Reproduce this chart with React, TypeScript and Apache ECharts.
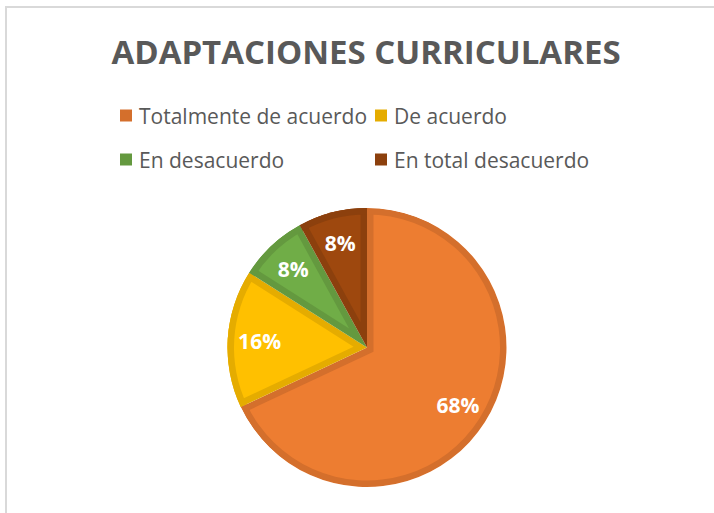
import React, { useEffect, useRef } from "react";
import * as echarts from "echarts";

const titleText = "ADAPTACIONES CURRICULARES";
const categories = ["Totalmente de acuerdo", "De acuerdo", "En desacuerdo", "En total desacuerdo"];
const values = [68, 16, 8, 8];
const lightColors = ["#ED7D31", "#FFC000", "#70AD47", "#9E480E"];
const darkColors = ["#D46F2C", "#E5AC00", "#64993F", "#8C400D"];

const CX = 367;
const CY = 347.5;
const R = 139.5;
const D = 6.5;
const FONT = "'Open Sans', 'Liberation Sans', sans-serif";

export default function App() {
  const ref = useRef<HTMLDivElement>(null);
  useEffect(() => {
    if (!ref.current) return;
    const chart = echarts.init(ref.current, null, { renderer: "svg" });
    const total = values.reduce((a, b) => a + b, 0);
    const noFx = {
      silent: true,
      animation: false,
      avoidLabelOverlap: false,
      label: { show: false },
      labelLine: { show: false },
      emphasis: { disabled: true },
      startAngle: 90,
      clockwise: true,
    };
    const series: any[] = [];
    // dark base
    series.push({
      ...noFx,
      type: "pie",
      center: [CX, CY],
      radius: [0, R],
      data: values.map((v, j) => ({ name: categories[j], value: v, itemStyle: { color: darkColors[j] } })),
    });
    // light inset wedges
    let cum = 0;
    let needCover = 0;
    values.forEach((v, i) => {
      const f0 = cum / total;
      cum += v;
      const f1 = cum / total;
      const theta = (f1 - f0) * 2 * Math.PI;
      const beta = ((f0 + f1) / 2) * 2 * Math.PI;
      const s = D / Math.sin(theta / 2);
      const reflex = theta > Math.PI;
      const rr = reflex ? R - D + s : R - s;
      if (reflex) needCover = Math.max(needCover, 2 * s);
      series.push({
        ...noFx,
        type: "pie",
        center: [CX + s * Math.sin(beta), CY - s * Math.cos(beta)],
        radius: [0, rr],
        data: values.map((w, j) => ({
          name: categories[j],
          value: w,
          itemStyle: { color: j === i ? lightColors[i] : "rgba(0,0,0,0)" },
        })),
      });
    });
    // dark outer ring
    series.push({
      ...noFx,
      type: "pie",
      center: [CX, CY],
      radius: [R - D, R],
      data: values.map((v, j) => ({ name: categories[j], value: v, itemStyle: { color: darkColors[j] } })),
    });
    // white cover outside the pie (for reflex slice overflow)
    series.push({
      ...noFx,
      type: "pie",
      center: [CX, CY],
      radius: [R, R + needCover + 2],
      data: values.map((v, j) => ({
        name: categories[j],
        value: v,
        itemStyle: { color: v / total > 0.5 ? "#ffffff" : "rgba(0,0,0,0)" },
      })),
    });
    // labels
    series.push({
      ...noFx,
      type: "pie",
      center: [CX, CY],
      radius: [R * 0.5, R],
      data: values.map((v, j) => ({ name: categories[j], value: v, itemStyle: { color: "rgba(0,0,0,0)" } })),
      label: {
        show: true,
        position: "inside",
        formatter: "{d}%",
        color: "#ffffff",
        fontSize: 21,
        fontWeight: "bold",
        fontFamily: FONT,
      },
    });

    const legendPos = [
      { left: 120, top: 105 },
      { left: 375, top: 105 },
      { left: 120, top: 149 },
      { left: 375, top: 149 },
    ];
    const legend = categories.map((c, i) => ({
      ...legendPos[i],
      orient: "horizontal",
      icon: "rect",
      itemWidth: 12,
      itemHeight: 12,
      itemGap: 0,
      padding: 0,
      selectedMode: false,
      textStyle: { fontFamily: FONT, fontSize: 21, color: "#595959", padding: [0, 0, 0, 2] },
      data: [{ name: c, itemStyle: { color: darkColors[i] } }],
    }));

    chart.setOption({
      animation: false,
      backgroundColor: "#ffffff",
      title: {
        text: titleText,
        left: 366,
        top: 35,
        textAlign: "center",
        padding: 0,
        textStyle: { fontFamily: FONT, fontSize: 33, fontWeight: "bold", color: "#595959" },
      },
      legend,
      graphic: [
        {
          type: "rect",
          silent: true,
          shape: { x: 6, y: 7, width: 800, height: 600 },
          style: { fill: "none", stroke: "#d9d9d9", lineWidth: 2 },
        },
      ],
      series,
    });
    return () => chart.dispose();
  }, []);
  return (
    <div
      ref={ref}
      style={{ position: "fixed", left: 0, top: 0, width: 714, height: 513, background: "#fff" }}
    />
  );
}
